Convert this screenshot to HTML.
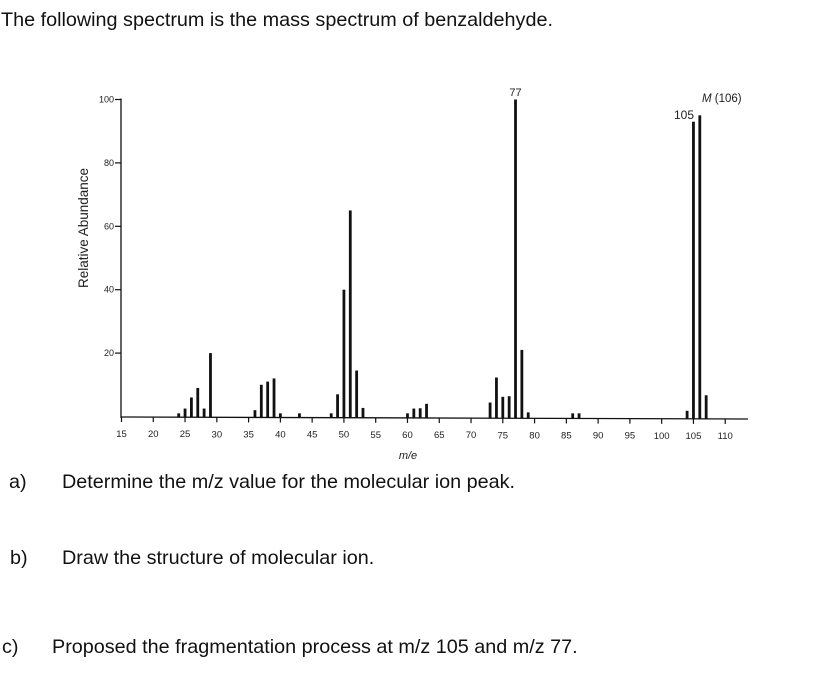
<!DOCTYPE html>
<html><head><meta charset="utf-8"><style>
body{margin:0;background:#fff;width:820px;height:685px;overflow:hidden;font-family:"Liberation Sans",Arial,sans-serif;}
.t{position:absolute;font-size:19.8px;color:#111;white-space:nowrap;}
</style></head><body>
<div class="t" style="left:1px;top:9px;">The following spectrum is the mass spectrum of benzaldehyde.</div>
<div class="t" style="left:9px;top:471px;">a)</div>
<div class="t" style="left:62px;top:471px;">Determine the m/z value for the molecular ion peak.</div>
<div class="t" style="left:10px;top:547px;">b)</div>
<div class="t" style="left:62px;top:547px;">Draw the structure of molecular ion.</div>
<div class="t" style="left:2px;top:636px;">c)</div>
<div class="t" style="left:52px;top:636px;">Proposed the fragmentation process at m/z 105 and m/z 77.</div>
<svg id="chart" width="820" height="685" style="position:absolute;left:0;top:0" xmlns="http://www.w3.org/2000/svg"></svg>
<script>
const mzValues=[24,25,26,27,28,29,36,37,38,39,40,43,48,49,50,51,52,53,60,61,62,63,73,74,75,76,77,78,79,86,87,104,105,106,107];
const abundance=[1,2.5,6,9,2.5,20,2,10,11,12,1,1,1,7,40,65,14.5,2.7,1,2.5,2.6,4,4.4,12.3,6.2,6.4,100,21,1.3,1,1,1.8,93,95,6.7];
const xTicks=[15,20,25,30,35,40,45,50,55,60,65,70,75,80,85,90,95,100,105,110];
const yTicks=[20,40,60,80,100];
const NS="http://www.w3.org/2000/svg";
const svg=document.getElementById('chart');
const X=v=>121.5+(v-15)*6.355;
const Y=v=>416.5-v*3.17;
function mk(tag,attrs){const e=document.createElementNS(NS,tag);for(const k in attrs)e.setAttribute(k,attrs[k]);svg.appendChild(e);return e;}
let ax=mk('line',{x1:121,y1:Y(100)-1,x2:121,y2:418,stroke:'#111','stroke-width':1.3});


let bx=mk('line',{x1:121,y1:417,x2:748,y2:419,stroke:'#111','stroke-width':1.3});


yTicks.forEach(v=>{
 let l=mk('line',{x1:115,y1:Y(v),x2:121,y2:Y(v),stroke:'#111','stroke-width':1.2});
 
 
 let t=mk('text',{x:114,y:Y(v)+3,'font-size':9,'text-anchor':'end',fill:'#222'});
 t.textContent=v;
 
 
});
xTicks.forEach(v=>{
 const yb=417+(v-15)/95*2;
 let l=mk('line',{x1:X(v),y1:yb,x2:X(v),y2:yb+5,stroke:'#111','stroke-width':1.2});
 
 
 let t=mk('text',{x:X(v),y:yb+20,'font-size':9.5,'text-anchor':'middle',fill:'#222'});
 t.textContent=v;
 
 
});
mzValues.forEach((m,i)=>{
 const yb=417+(m-15)/95*2;
 let r=mk('rect',{x:X(m)-1.4,y:Y(abundance[i]),width:2.8,height:yb-Y(abundance[i]),fill:'#111'});
 
 
});
let yl=mk('text',{x:0,y:0,'font-size':13.5,'text-anchor':'middle',fill:'#222',transform:'translate(88,228) rotate(-90)'});
yl.textContent='Relative Abundance';


let xl=mk('text',{x:408,y:459,'font-size':11,'font-style':'italic','text-anchor':'middle',fill:'#222'});
xl.textContent='m/e';


let a1=mk('text',{x:X(77),y:96,'font-size':11,'text-anchor':'middle',fill:'#222'});
a1.textContent='77';


let a2=mk('text',{x:684,y:119,'font-size':12,'text-anchor':'middle',fill:'#222'});
a2.textContent='105';


let a3=mk('text',{x:702,y:102,'font-size':11.5,fill:'#222'});
a3.innerHTML='<tspan font-style="italic">M</tspan> (106)';


</script>
</body></html>
